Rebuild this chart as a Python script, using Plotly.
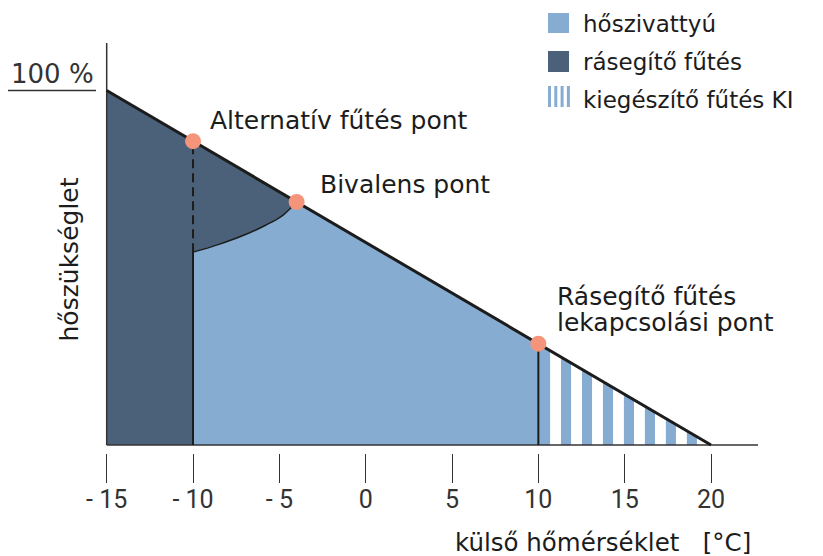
import numpy as np
import plotly.graph_objects as go

# ---------------- data ----------------
demand_x = [-15, 20]            # outside temperature [°C]
demand_y = [100, 0]             # heat demand [%]
switch_x = [-10, 10]            # alternative point, auxiliary-off point
bivalent_x = -4
curve_x = [-10, -8.5, -7, -5.8, -4.8, -4]
curve_y = [54.4, 56.6, 59.3, 62.0, 64.8, 68.6]
tick_vals = [-15, -10, -5, 0, 5, 10, 15, 20]
tick_text = ["- 15", "- 10", "- 5", "0", "5", "10", "15", "20"]
legend_labels = ["hőszivattyú", "rásegítő fűtés", "kiegészítő fűtés KI"]
point_labels = ["Alternatív fűtés pont", "Bivalens pont", "Rásegítő fűtés", "lekapcsolási pont"]

# ---------------- style ----------------
LIGHT = "#86acd2"
DARK = "#4b6179"
DOT = "#f4947a"
INK = "#1c1c1c"
AX = "#333333"
FONT = "DejaVu Sans"
TFONT = "Roboto"

W, H = 823, 556
OFF = 8                       # page body offset of the figure in the screenshot
# plot area in screenshot pixels
P_L, P_R, P_T, P_B = 100, 758, 43, 453
ML, MR, MT, MB = P_L - OFF, W - (P_R - OFF), P_T - OFF, H - (P_B - OFF)
PW, PH = W - ML - MR, H - MT - MB
px_per_x = 17.266
px_per_y = 3.545
x0_px, y0_px = 106.7, 445     # screenshot pixel of (-15, 0)
xmin = -15 - (x0_px - P_L) / px_per_x
xmax = -15 + (P_R - x0_px) / px_per_x
ymin = -(P_B - y0_px) / px_per_y
ymax = (y0_px - P_T) / px_per_y

def d(x):
    return np.interp(x, demand_x, demand_y)

def pxx(p):
    return (p - OFF - ML) / PW

def pxy(p):
    return (H - MB - (p - OFF)) / PH

fig = go.Figure()

# dark region (auxiliary heating)
dk_x = [demand_x[0], demand_x[0]] + [bivalent_x] + curve_x[::-1] + [switch_x[0], demand_x[0]]
dk_y = [0, demand_y[0]] + [float(d(bivalent_x))] + curve_y[::-1] + [0, 0]
fig.add_trace(go.Scatter(x=dk_x, y=dk_y, fill="toself", fillcolor=DARK, mode="none", hoverinfo="skip"))

# light region (heat pump)
lt_x = [switch_x[0]] + curve_x + [switch_x[1], switch_x[1], switch_x[0]]
lt_y = [0] + curve_y + [float(d(switch_x[1])), 0, 0]
fig.add_trace(go.Scatter(x=lt_x, y=lt_y, fill="toself", fillcolor=LIGHT, mode="none", hoverinfo="skip"))

# striped region (supplementary heating off)
first_white, period, white_w = 10.68, 1.215, 0.63
blue_int = [(switch_x[1], first_white)]
k = 0
while True:
    a = first_white + k * period + white_w
    b = first_white + (k + 1) * period
    if a >= demand_x[1]:
        break
    blue_int.append((a, min(b, demand_x[1])))
    k += 1
sx, sy = [], []
for a, b in blue_int:
    sx += [a, a, b, b, a, None]
    sy += [0, float(d(a)), float(d(b)), 0, 0, None]
fig.add_trace(go.Scatter(x=sx, y=sy, fill="toself", fillcolor=LIGHT, mode="none", hoverinfo="skip"))

# axes lines
fig.add_trace(go.Scatter(x=[demand_x[0], demand_x[0]], y=[0, ymax], mode="lines",
                         line=dict(color=AX, width=1.5), hoverinfo="skip"))
fig.add_trace(go.Scatter(x=[demand_x[0], xmax], y=[0, 0], mode="lines",
                         line=dict(color=AX, width=1.5), hoverinfo="skip"))

# curve boundary
fig.add_trace(go.Scatter(x=curve_x, y=curve_y, mode="lines", line=dict(color=INK, width=1.5, shape="spline"),
                         hoverinfo="skip"))
# vertical separators
fig.add_trace(go.Scatter(x=[switch_x[0], switch_x[0]], y=[0, curve_y[0]], mode="lines",
                         line=dict(color=INK, width=2), hoverinfo="skip"))
fig.add_trace(go.Scatter(x=[switch_x[0], switch_x[0]], y=[curve_y[0], float(d(switch_x[0]))], mode="lines",
                         line=dict(color=INK, width=2, dash="9px,5px"), hoverinfo="skip"))
fig.add_trace(go.Scatter(x=[switch_x[1], switch_x[1]], y=[0, float(d(switch_x[1]))], mode="lines",
                         line=dict(color=INK, width=2), hoverinfo="skip"))

# demand line
fig.add_trace(go.Scatter(x=demand_x, y=demand_y, mode="lines", line=dict(color=INK, width=3), hoverinfo="skip"))

# points
pts_x = [switch_x[0], bivalent_x, switch_x[1]]
pts_y = [float(d(v)) for v in pts_x]
fig.add_trace(go.Scatter(x=pts_x, y=pts_y, mode="markers", marker=dict(color=DOT, size=16),
                         hoverinfo="skip", cliponaxis=False))

def txt(x, y, t, size, xanchor="left", angle=0, color=INK, family=FONT):
    return dict(x=pxx(x), y=pxy(y), xref="paper", yref="paper", text=t, showarrow=False,
                xanchor=xanchor, yanchor="middle", align="left", textangle=angle,
                font=dict(family=family, size=size, color=color))

ann = []
lab_pos = [(208, 120.5), (318, 184.5), (555, 296), (555, 322)]
for (lx, ly), t in zip(lab_pos, point_labels):
    ann.append(txt(lx, ly, t, 25))
ann.append(txt(52, 74, "100 %", 26, xanchor="center", color="#333"))
ann.append(txt(69, 259.5, "hőszükséglet", 25, xanchor="center", angle=-90))
ann.append(txt(753, 542, "külső hőmérséklet   [°C]", 24.5, xanchor="right"))
leg_y = [24, 62, 100]
for ly, t in zip(leg_y, legend_labels):
    ann.append(txt(581, ly, t, 23))

def rect(x0, x1, y0, y1, color):
    return dict(type="rect", xref="paper", yref="paper", x0=pxx(x0), x1=pxx(x1),
                y0=pxy(y1), y1=pxy(y0), fillcolor=color, line=dict(width=0))

shapes = [dict(type="line", xref="paper", yref="paper", x0=pxx(8), x1=pxx(96),
               y0=pxy(90.5), y1=pxy(90.5), line=dict(color="#333", width=1.5))]
shapes.append(rect(548, 569, 13, 33, LIGHT))
shapes.append(rect(548, 569, 51, 72, DARK))
for i in range(4):
    xs = 548 + i * 6.3
    shapes.append(rect(xs, xs + 3, 86, 107, LIGHT))

fig.update_layout(
    width=W, height=H, margin=dict(l=ML, r=MR, t=MT, b=MB),
    plot_bgcolor="white", paper_bgcolor="white", showlegend=False,
    annotations=ann, shapes=shapes,
    xaxis=dict(range=[xmin, xmax], tickvals=tick_vals, ticktext=tick_text, ticks="outside",
               ticklen=29, tickwidth=1.3, tickcolor=AX, showline=False, showgrid=False, zeroline=False,
               ticklabelstandoff=-5,
               tickfont=dict(family=TFONT, size=25, color="#333"), fixedrange=True),
    yaxis=dict(range=[ymin, ymax], visible=False, fixedrange=True),
)
fig.write_html("out.html")
